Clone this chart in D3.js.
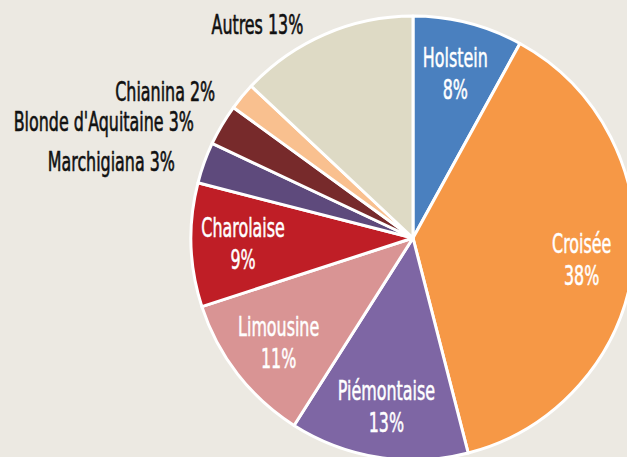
<!DOCTYPE html>
<html><head><meta charset="utf-8">
<script src="https://cdn.jsdelivr.net/npm/d3@7"></script>
<style>
html,body{margin:0;padding:0;background:#ECE9E2;}
svg{display:block;}
text{font-family:"DejaVu Sans Condensed","Liberation Sans Narrow",sans-serif;font-stretch:condensed;}
</style></head>
<body>
<script>
const categories = ["Holstein","Croisée","Piémontaise","Limousine","Charolaise","Marchigiana","Blonde d'Aquitaine","Chianina","Autres"];
const values = [8,38,13,11,9,3,3,2,13];
const colors = ["#4A80BF","#F69846","#7E66A4","#D99494","#BF1E26","#5E4A7C","#772A2B","#F9C08F","#DEDAC5"];
const insideLabel = [true,true,true,true,true,false,false,false,false];

const W = 627, H = 457;
const cx = 413, cy = 238, R = 222;

const svg = d3.select("body").append("svg").attr("width", W).attr("height", H);
svg.append("rect").attr("width", W).attr("height", H).attr("fill", "#ECE9E2");

const data = categories.map((c,i)=>({name:c, value:values[i], color:colors[i], inside:insideLabel[i]}));
const pie = d3.pie().value(d=>d.value).sort(null);
const arcs = pie(data);
const arc = d3.arc().innerRadius(0).outerRadius(R);
const labelArc = d3.arc().innerRadius(170).outerRadius(170);
const outArc = d3.arc().innerRadius(236).outerRadius(236);

const g = svg.append("g").attr("transform", `translate(${cx},${cy})`);
g.selectAll("path").data(arcs).join("path")
  .attr("d", arc).attr("fill", d=>d.data.color)
  .attr("stroke", "#fff").attr("stroke-width", 3).attr("stroke-linejoin","round");

const fs = 26, sx = 0.68;
// inside labels
arcs.filter(d=>d.data.inside).forEach(d=>{
  const [x,y] = labelArc.centroid(d);
  const t = g.append("text").attr("transform", `translate(${x},${y}) scale(${sx},1)`)
    .attr("text-anchor","middle").attr("fill","#fff").attr("stroke","#fff").attr("stroke-width",0.5)
    .attr("font-size",fs);
  t.append("tspan").attr("x",0).attr("y",-6).text(d.data.name);
  t.append("tspan").attr("x",0).attr("y",26).text(d.data.value+"%");
});
// outside labels
arcs.filter(d=>!d.data.inside).forEach(d=>{
  const [x,y] = outArc.centroid(d);
  g.append("text").attr("transform", `translate(${x-16},${y+13}) scale(${sx},1)`)
    .attr("text-anchor","end").attr("fill","#111").attr("stroke","#111").attr("stroke-width",0.6)
    .attr("font-size",fs)
    .text(d.data.name+" "+d.data.value+"%");
});
</script>
</body></html>
